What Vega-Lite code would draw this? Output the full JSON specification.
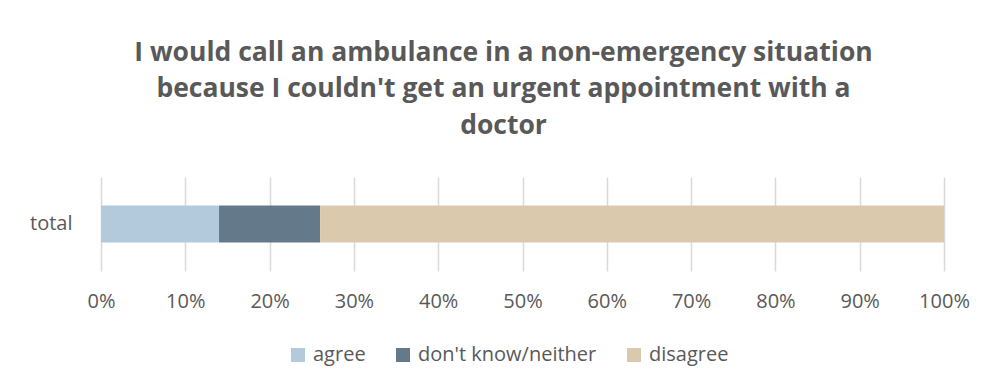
{
  "$schema": "https://vega.github.io/schema/vega-lite/v6.json",
  "width": 843,
  "height": 94,
  "autosize": {"type": "none"},
  "padding": {"left": 101, "top": 177, "right": 48, "bottom": 119},
  "background": "white",
  "title": {
    "text": ["I would call an ambulance in a non-emergency situation", "because I couldn't get an urgent appointment with a", "doctor"],
    "font": "Open Sans",
    "fontSize": 26.5,
    "fontWeight": "bold",
    "color": "#595959",
    "lineHeight": 36.5,
    "anchor": "middle",
    "dx": -19,
    "offset": 38
  },
  "data": {
    "values": [
      {"group": "total", "response": "agree", "order": 1, "share": 0.14},
      {"group": "total", "response": "don't know/neither", "order": 2, "share": 0.12},
      {"group": "total", "response": "disagree", "order": 3, "share": 0.74}
    ]
  },
  "mark": {"type": "bar", "size": 37},
  "encoding": {
    "y": {
      "field": "group",
      "type": "nominal",
      "title": null,
      "axis": {"domain": false, "ticks": false, "labelPadding": 29, "labelFontSize": 20, "labelFont": "Open Sans", "labelColor": "#595959"}
    },
    "x": {
      "field": "share",
      "type": "quantitative",
      "stack": "zero",
      "title": null,
      "scale": {"domain": [0, 1], "nice": false},
      "axis": {
        "format": "%",
        "values": [0, 0.1, 0.2, 0.3, 0.4, 0.5, 0.6, 0.7, 0.8, 0.9, 1],
        "domain": false,
        "ticks": false,
        "grid": true,
        "gridColor": "#D9D9D9",
        "gridWidth": 1.5,
        "labelFlush": false,
        "labelPadding": 20,
        "labelFontSize": 20,
        "labelFont": "Open Sans",
        "labelColor": "#595959"
      }
    },
    "color": {
      "field": "response",
      "type": "nominal",
      "sort": ["agree", "don't know/neither", "disagree"],
      "scale": {"domain": ["agree", "don't know/neither", "disagree"], "range": ["#B3CADD", "#647A8A", "#DBC9AE"]},
      "legend": {
        "title": null,
        "orient": "none",
        "legendX": 187,
        "legendY": 168,
        "direction": "horizontal",
        "symbolType": "square",
        "symbolSize": 196,
        "symbolStrokeWidth": 0,
        "labelFontSize": 20,
        "labelFont": "Open Sans",
        "labelColor": "#595959",
        "labelLimit": 0,
        "columnPadding": 27,
        "labelOffset": 5
      }
    },
    "order": {"field": "order", "type": "quantitative"}
  },
  "config": {"view": {"stroke": null}}
}
